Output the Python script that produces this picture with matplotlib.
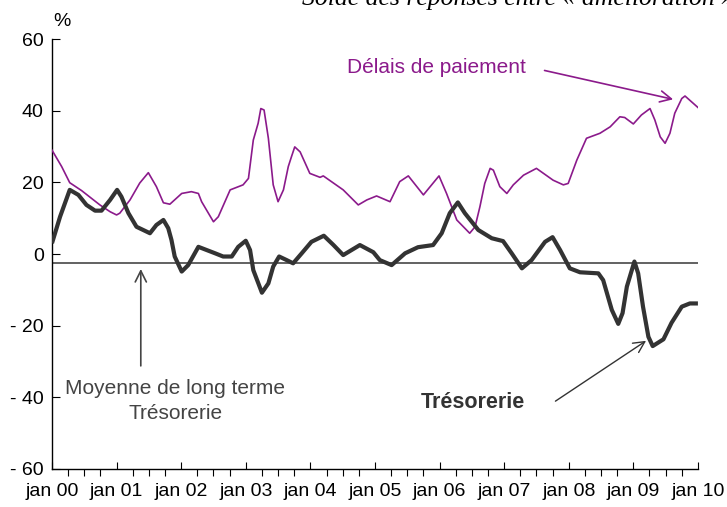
import matplotlib
matplotlib.use("Agg")
import matplotlib.pyplot as plt

plt.rcParams['font.family'] = ['Liberation Sans', 'DejaVu Sans']

# months since jan 2000 / values
delais_m = [0, 1.8, 3.3, 5.5, 8.9, 10.8, 12, 12.6, 14.5, 16.3, 17.9, 19.4, 20.7, 21.9,
            24.1, 25.9, 27.2, 27.8, 30, 30.9, 33.1, 35.5, 36.5, 37.4, 38.3, 38.8, 39.4,
            40.2, 41.1, 42, 43, 43.9, 44.5, 45.1, 46.1, 47.9, 49.8, 50.4, 54.1, 56.9,
            58.5, 60.3, 62.8, 64.6, 66.2, 69, 71.9, 73.3, 75.2, 77.6, 78.6, 79.5, 80.4,
            81.4, 82, 83.2, 84.5, 85.7, 87.6, 90, 93.1, 95, 95.9, 97.5, 99.3, 101.8,
            103.7, 105.5, 106.4, 108, 109.5, 111.1, 112, 113, 113.9, 114.8, 115.7, 117,
            117.6, 118.8, 120]
delais_v = [29.0, 24.4, 19.9, 17.7, 13.7, 11.8, 10.9, 11.4, 15.1, 19.8, 22.7, 18.8, 14.3, 13.9,
            16.9, 17.4, 16.9, 14.6, 9.0, 10.4, 17.9, 19.3, 21.1, 31.8, 36.5, 40.6, 40.2,
            32.3, 19.3, 14.6, 17.9, 24.4, 27.2, 29.9, 28.5, 22.5, 21.4, 21.8, 17.9, 13.7,
            15.1, 16.2, 14.6, 20.2, 21.8, 16.5, 21.8, 16.9, 9.5, 5.8, 7.6, 13.2, 19.7,
            23.9, 23.4, 18.8, 16.9, 19.3, 22.0, 23.9, 20.6, 19.3, 19.7, 26.2, 32.3, 33.7,
            35.5, 38.3, 38.1, 36.3, 38.8, 40.6, 37.4, 32.7, 30.9, 33.7, 39.3, 43.4,
            44.1, 42.5, 40.9]

treso_m = [0, 1.5, 3.3, 4.9, 6.4, 8, 9.2, 10.8, 12.1, 12.9, 14.2, 15.7, 18.2, 19.4, 20.7,
           21.6, 22.2, 22.8, 24.1, 25.3, 27.2, 30.3, 31.8, 33.4, 34.6, 36, 36.8, 37.4,
           39, 40.2, 41.1, 42.2, 43.6, 44.8, 46.4, 48.2, 50.5, 52.3, 54.1, 57.2, 59.7,
           60.9, 63.1, 65.6, 68, 70.8, 72.4, 73.9, 75.4, 76.7, 79.2, 81.7, 83.8, 85.4,
           87.3, 89.1, 91.6, 93, 94.4, 96.2, 98.1, 101.5, 102.4, 104, 105.2, 106, 106.8,
           108.2, 108.9, 109.8, 110.8, 111.6, 113.6, 115.1, 117, 118.5, 120]
treso_v = [3.0, 10.4, 17.9, 16.5, 13.7, 12.1, 12.1, 15.1, 17.9, 16.0, 11.4, 7.6, 5.8, 8.1, 9.5,
           7.2, 3.9, -0.7, -4.9, -3.1, 2.0, 0.2, -0.7, -0.7, 2.0, 3.7, 1.1, -4.5,
           -10.8, -8.2, -3.5, -0.7, -1.7, -2.6, 0.2, 3.4, 5.1, 2.5, -0.3, 2.5, 0.5,
           -1.7, -3.1, 0.2, 1.9, 2.5, 5.8, 11.4, 14.4, 11.4, 6.7, 4.4, 3.6, 0.2,
           -4.0, -1.7, 3.4, 4.7, 1.1, -4.0, -5.1, -5.4, -7.3, -15.6, -19.5, -16.5, -9.1,
           -2.1, -5.4, -14.7, -23.1, -25.7, -23.8, -19.2, -14.7, -13.8, -13.8]

moyenne = -2.6
years = ['00', '01', '02', '03', '04', '05', '06', '07', '08', '09', '10']

purple = '#8B1A8B'
dark = '#333333'

fig = plt.figure(figsize=(7.27, 5.07), dpi=100)
ax = fig.add_axes([0.0715, 0.075, 0.8885, 0.848])

ax.plot(delais_m, delais_v, color=purple, lw=1.2, zorder=3)
ax.plot(treso_m, treso_v, color=dark, lw=3.0, zorder=4, solid_capstyle='butt')
ax.plot([0, 120], [moyenne, moyenne], color='#555555', lw=1.3, zorder=2)

ax.set_xlim(0, 120)
ax.set_ylim(-60, 60)
ax.set_yticks([60, 40, 20, 0, -20, -40, -60])
ax.set_yticklabels(['60', '40', '20', '0', '- 20', '- 40', '- 60'])
ax.set_xticks(range(0, 121, 12))
ax.set_xticklabels(['jan ' + y for y in years])
ax.set_xticks(range(0, 121, 3), minor=True)
ax.tick_params(axis='both', direction='in', labelsize=14, colors='black')
ax.tick_params(axis='x', which='both', length=5, width=0.8, pad=10)
ax.tick_params(axis='y', length=6, width=0.8, pad=6)
for s in ['top', 'right']:
    ax.spines[s].set_visible(False)
for s in ['left', 'bottom']:
    ax.spines[s].set_linewidth(1.0)

ax.text(0.2, 62.5, '%', fontsize=14, ha='left', va='bottom')

# annotations
ax.annotate('', xy=(115.9, 43.0), xytext=(91.0, 51.4),
            arrowprops=dict(arrowstyle='->,head_length=0.8,head_width=0.4',
                            color=purple, lw=1.2))
ax.text(71.5, 52.0, 'Délais de paiement', color=purple, fontsize=15,
        ha='center', va='center')

ax.annotate('', xy=(16.5, -3.4), xytext=(16.5, -32.0),
            arrowprops=dict(arrowstyle='->,head_length=0.8,head_width=0.4',
                            color='#444444', lw=1.2))
ax.text(22.9, -35.0, 'Moyenne de long terme\nTrésorerie', color='#444444',
        fontsize=15, ha='center', va='top', linespacing=1.35)

ax.annotate('', xy=(110.8, -23.8), xytext=(93.1, -41.5),
            arrowprops=dict(arrowstyle='->,head_length=0.8,head_width=0.4',
                            color=dark, lw=1.0))
ax.text(78.2, -41.5, 'Trésorerie', color=dark, fontsize=15.5, fontweight='bold',
        ha='center', va='center')

fig.text(0.415, 1 - 5.5 / 507, 'Solde des réponses entre « amélioration » et « détérioration »',
         family=['Liberation Serif', 'DejaVu Serif'], style='italic', fontsize=18.5,
         ha='left', va='baseline')

fig.savefig('out.png', dpi=100)
